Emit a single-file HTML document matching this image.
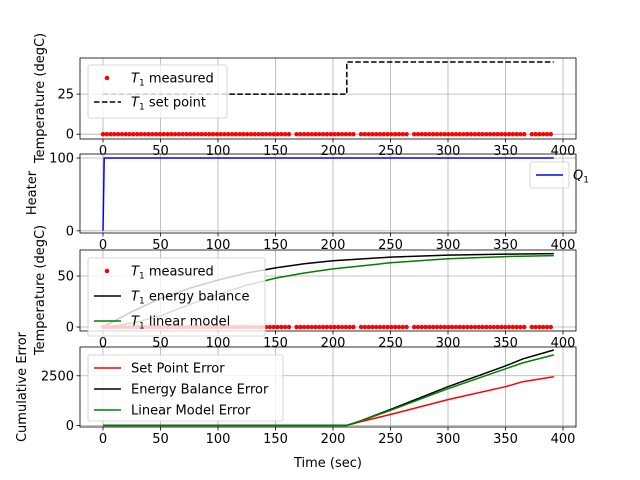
<!DOCTYPE html>
<html><head><meta charset="utf-8"><style>
body{margin:0;background:#fff}
svg{display:block;font-family:"DejaVu Sans","Liberation Sans",sans-serif}
</style></head><body>
<svg id="c" width="640" height="480" viewBox="0 0 640 480"></svg>
<script>
// ---- data ----
const xTicks=[0,50,100,150,200,250,300,350,400];
const spTimes=[0,212,212,392];
const spValues=[25,25,45,45];
const heaterTimes=[0,1,392];
const heaterValues=[0,100,100];
const ebTimes=[0,25,50,75,100,125,150,175,200,250,300,350,392];
const ebValues=[0,15,28,38,46,53,58,62,65,68.5,70.5,71.5,72];
const lmTimes=[0,15,30,50,75,100,125,150,175,200,250,300,350,392];
const lmValues=[0,2,5,11,22,32,41,48,53,57,63,67,69,70];
const errTimes=[0,212,225,250,300,350,365,392];
const spErr=[0,0,200,550,1300,1950,2200,2450];
const ebErr=[0,0,250,800,1950,3000,3350,3800];
const lmErr=[0,0,240,760,1850,2850,3150,3550];
const gapTimes=[165,222,268,370];
const sampleStep=3.3;
const p1Ticks=[0,25], p2Ticks=[0,100], p3Ticks=[0,50], p4Ticks=[0,2500];

const NS="http://www.w3.org/2000/svg";
const svg=document.getElementById('c');
function mk(tag,attrs,parent){const e=document.createElementNS(NS,tag);for(const k in attrs)e.setAttribute(k,attrs[k]);(parent||svg).appendChild(e);return e;}
const X0=80,X1=576;
const xs=t=>103+t*(460/400);
const panels=[
 {top:58,bot:139,ymin:-3,ymax:47.5,ticks:p1Ticks,name:'setpoint-panel'},
 {top:154,bot:233,ymin:-3,ymax:105.5,ticks:p2Ticks,name:'heater-panel'},
 {top:250,bot:331,ymin:-3.9,ymax:75.5,ticks:p3Ticks,name:'temperature-panel'},
 {top:347,bot:427,ymin:-80,ymax:3950,ticks:p4Ticks,name:'error-panel'}
];
panels.forEach(p=>{p.ys=v=>p.bot-(v-p.ymin)/(p.ymax-p.ymin)*(p.bot-p.top);});
const measTimes=[];
for(let t=0;t<=392;t+=sampleStep){if(!gapTimes.some(g=>Math.abs(g-t)<1.8))measTimes.push(Math.round(t*10)/10);}
const measValues=measTimes.map(()=>0);

function line(p,ts,vs,color,dash,name){
 const d=ts.map((t,i)=>(i?'L':'M')+xs(t).toFixed(1)+','+p.ys(vs[i]).toFixed(1)).join('');
 const e=mk('path',{d:d,fill:'none',stroke:color,'stroke-width':1.5});
 if(dash)e.setAttribute('stroke-dasharray',dash);
 
 
}
function dots(p,name){
 const g=mk('g',{});
 
 
 measTimes.forEach((t,i)=>{const c=mk('circle',{cx:xs(t),cy:p.ys(measValues[i]),r:2.2,fill:'red'},g);
 
 });
}
function axes(p){
 const g=mk('g',{});
 
 
 xTicks.forEach(t=>{mk('line',{x1:xs(t),x2:xs(t),y1:p.top,y2:p.bot,stroke:'#b0b0b0','stroke-width':0.8},g);
  mk('line',{x1:xs(t),x2:xs(t),y1:p.bot,y2:p.bot+3.5,stroke:'#000','stroke-width':0.8},g);
  const tx=mk('text',{x:xs(t),y:p.bot+16,'font-size':13,'text-anchor':'middle'},g);tx.textContent=t;
  
  });
 p.ticks.forEach(v=>{const y=p.ys(v);mk('line',{x1:X0,x2:X1,y1:y,y2:y,stroke:'#b0b0b0','stroke-width':0.8},g);
  mk('line',{x1:X0-3.5,x2:X0,y1:y,y2:y,stroke:'#000','stroke-width':0.8},g);
  const tx=mk('text',{x:X0-6,y:y+4.5,'font-size':13,'text-anchor':'end'},g);tx.textContent=v;
  
  });
}
function frame(p){const r=mk('rect',{x:X0,y:p.top,width:X1-X0,height:p.bot-p.top,fill:'none',stroke:'#000','stroke-width':0.8});
 
 }
function legend(x,y,w,h,items,name,sp){
 const g=mk('g',{});
 
 
 mk('rect',{x:x,y:y,width:w,height:h,rx:2,fill:'#fff','fill-opacity':0.8,stroke:'#ccc','stroke-width':0.8},g);
 items.forEach((it,i)=>{const cy=y+13+i*sp;
  if(it.dot)mk('circle',{cx:x+19,cy:cy,r:2.3,fill:'red'},g);
  else{const l=mk('line',{x1:x+6,x2:x+33,y1:cy,y2:cy,stroke:it.c,'stroke-width':1.5},g);if(it.dash)l.setAttribute('stroke-dasharray','5.5,2.4');}
  const t=mk('text',{x:x+43,y:cy+4.5,'font-size':13},g);t.innerHTML=it.t;
  
  });
}
const T1='<tspan font-style="italic">T</tspan><tspan font-size="9" dy="3">1</tspan><tspan dy="-3"> </tspan>';
panels.forEach(axes);
line(panels[0],spTimes,spValues,'#000','5.5,2.4','setpoint-line');
dots(panels[0],'measured-series-1');
line(panels[1],heaterTimes,heaterValues,'blue',null,'heater-line');
line(panels[2],ebTimes,ebValues,'#000',null,'energy-balance-line');
line(panels[2],lmTimes,lmValues,'green',null,'linear-model-line');
dots(panels[2],'measured-series-3');
line(panels[3],errTimes,spErr,'red',null,'setpoint-error-line');
line(panels[3],errTimes,ebErr,'#000',null,'energy-balance-error-line');
line(panels[3],errTimes,lmErr,'green',null,'linear-model-error-line');
panels.forEach(frame);
legend(88,65,139,53,[{dot:1,t:T1+'measured'},{c:'#000',dash:1,t:T1+'set point'}],'legend-setpoint',24);
legend(530,162,39,26,[{c:'blue',t:'<tspan font-style="italic">Q</tspan><tspan font-size="9" dy="3">1</tspan>'}],'legend-heater',24);
legend(88,258,177,78,[{dot:1,t:T1+'measured'},{c:'#000',t:T1+'energy balance'},{c:'green',t:T1+'linear model'}],'legend-temperature',25);
legend(88,355,195,66,[{c:'red',t:'Set Point Error'},{c:'#000',t:'Energy Balance Error'},{c:'green',t:'Linear Model Error'}],'legend-error',21);
function ylab(x,y,txt,name){const t=mk('text',{x:0,y:0,'font-size':13,'text-anchor':'middle',transform:`translate(${x},${y}) rotate(-90)`});t.textContent=txt;
 
 }
ylab(44,98,'Temperature (degC)','y-axis-title-1');
ylab(36,193,'Heater','y-axis-title-2');
ylab(44,290,'Temperature (degC)','y-axis-title-3');
ylab(26,387,'Cumulative Error','y-axis-title-4');
const xl=mk('text',{x:328,y:467,'font-size':13,'text-anchor':'middle'});xl.textContent='Time (sec)';


</script>
</body></html>
